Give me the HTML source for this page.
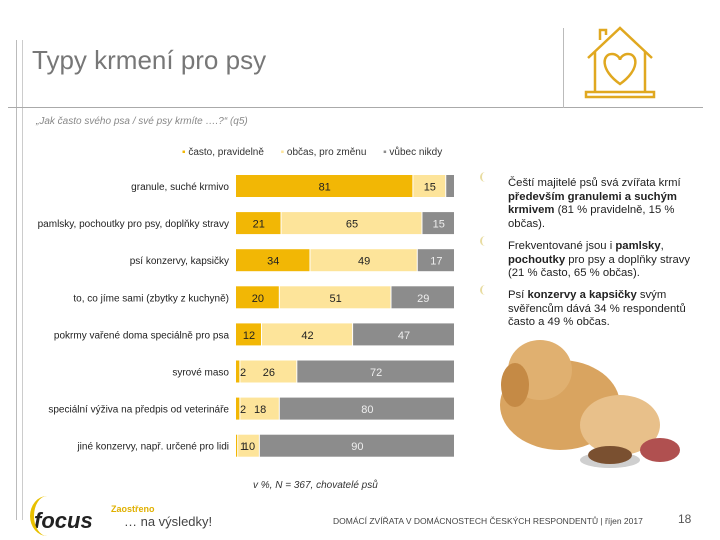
<!DOCTYPE html>
<html><head><meta charset="utf-8"><style>
body{margin:0;width:720px;height:540px;background:#fff;font-family:"Liberation Sans",sans-serif;position:relative;overflow:hidden}
.abs{position:absolute}
.b{position:absolute;left:508px;width:200px;font-size:11.3px;line-height:13.5px;color:#222}
.bul{position:absolute;left:480px;width:8px;height:10px;border-left:2px solid #e8dca0;border-radius:50%}
</style></head><body>
<div class="abs" style="left:16px;top:40px;width:1px;height:480px;background:#bbb"></div>
<div class="abs" style="left:22px;top:40px;width:1px;height:480px;background:#ccc"></div>
<div class="abs" style="left:8px;top:107px;width:695px;height:1px;background:#aaa"></div>
<div class="abs" style="left:563px;top:28px;width:1px;height:80px;background:#bbb"></div>
<div class="abs" style="left:32px;top:45px;font-size:26px;color:#777">Typy krmení pro psy</div>
<svg class="abs" style="left:580px;top:22px" width="80" height="80" viewBox="0 0 80 80">
<g fill="none" stroke="#e0a820" stroke-width="2.5"><path d="M8 36 L40 6 L72 36"/><path d="M15 30 V70 M65 30 V70"/><path d="M20 18 V8 H26 V13"/><rect x="6" y="70" width="68" height="5"/><path d="M40 62 C20 48 22 32 32 32 C37 32 40 36 40 38 C40 36 43 32 48 32 C58 32 60 48 40 62Z"/></g></svg>
<div class="abs" style="left:36px;top:116px;font-size:10px;color:#888;font-style:italic">„Jak často svého psa / své psy krmíte ….?“ (q5)</div>
<div class="abs" style="left:182px;top:147px;font-size:10px;color:#333;white-space:nowrap">
<span><span style="color:#f2b705">▪</span> často, pravidelně</span>&nbsp;&nbsp;&nbsp;&nbsp;&nbsp;
<span><span style="color:#fde49a">▪</span> občas, pro změnu</span>&nbsp;&nbsp;&nbsp;&nbsp;&nbsp;
<span><span style="color:#8c8c8c">▪</span> vůbec nikdy</span></div>
<svg id="chart" class="abs" style="left:0;top:0" width="470" height="470"></svg>
<div class="abs" style="left:253px;top:480px;font-size:10px;font-style:italic;color:#333">v %, N = 367, chovatelé psů</div>
<div class="bul" style="top:172px"></div>
<div class="b" style="top:177px">Čeští majitelé psů svá zvířata krmí <b>především granulemi a suchým krmivem</b> (81 % pravidelně, 15 % občas).</div>
<div class="bul" style="top:236px"></div>
<div class="b" style="top:240px">Frekventované jsou i <b>pamlsky</b>, <b>pochoutky</b> pro psy a doplňky stravy (21 % často, 65 % občas).</div>
<div class="bul" style="top:285px"></div>
<div class="b" style="top:289px">Psí <b>konzervy a kapsičky</b> svým svěřencům dává 34 % respondentů často a 49 % občas.</div>
<svg class="abs" style="left:470px;top:330px" width="230" height="150">
<ellipse cx="90" cy="75" rx="60" ry="45" fill="#d9a460"/><ellipse cx="70" cy="40" rx="32" ry="30" fill="#e0b070"/><ellipse cx="45" cy="55" rx="14" ry="22" fill="#c58a45"/><ellipse cx="150" cy="95" rx="40" ry="30" fill="#e8c08a"/>
<ellipse cx="140" cy="130" rx="30" ry="8" fill="#cfcfcf"/><ellipse cx="140" cy="125" rx="22" ry="9" fill="#7a5030"/><ellipse cx="190" cy="120" rx="20" ry="12" fill="#b05050"/></svg>
<div class="abs" style="left:34px;top:508px;font-size:22px;font-weight:bold;font-style:italic;color:#222">focus</div>
<div class="abs" style="left:30px;top:496px;width:30px;height:40px;border-left:4px solid #e8c000;border-radius:50%"></div>
<div class="abs" style="left:111px;top:504px;font-size:9px;color:#e0b000;font-weight:bold">Zaostřeno</div>
<div class="abs" style="left:124px;top:514px;font-size:13px;color:#444">… na výsledky!</div>
<div class="abs" style="left:333px;top:516px;font-size:8.5px;color:#444">DOMÁCÍ ZVÍŘATA V DOMÁCNOSTECH ČESKÝCH RESPONDENTŮ | říjen 2017</div>
<div class="abs" style="left:678px;top:512px;font-size:12px;color:#555">18</div>
<script>
const categories=["granule, suché krmivo","pamlsky, pochoutky pro psy, doplňky stravy","psí konzervy, kapsičky","to, co jíme sami (zbytky z kuchyně)","pokrmy vařené doma speciálně pro psa","syrové maso","speciální výživa na předpis od veterináře","jiné konzervy, např. určené pro lidi"];
const often=[81,21,34,20,12,2,2,1];
const sometimes=[15,65,49,51,42,26,18,10];
const never=[4,15,17,29,47,72,80,90];
const showNever=[false,true,true,true,true,true,true,true];
const svg=document.getElementById('chart');const NS='http://www.w3.org/2000/svg';
const x0=236,xw=219,y0=186,step=37.1,bh=22;
const xs=v=>v*xw/100;
const yc=i=>y0+i*step;
const cols=["#f2b705","#fde49a","#8c8c8c"];
function mk(t,a){const e=document.createElementNS(NS,t);for(const k in a)e.setAttribute(k,a[k]);svg.appendChild(e);return e;}
const labels=[];
categories.forEach((c,i)=>{
 const tot=often[i]+sometimes[i]+never[i];
 const vals=[often[i],sometimes[i],never[i]];let acc=0;
 const lab=mk('text',{x:229,y:yc(i)+4,'text-anchor':'end','font-size':10,fill:'#222','font-family':'Liberation Sans'});
 lab.textContent=c;
 
 
 vals.forEach((v,j)=>{
  const w=xs(v*100/tot);const x=x0+xs(acc*100/tot);
  const r=mk('rect',{x:x,y:yc(i)-bh/2,width:Math.max(w-1,0),height:bh,fill:cols[j]});
  
  
  acc+=v;
  if(j==2&&!showNever[i])return;
  let tx=x+w/2,anc='middle';
  if(j==0&&v<5){tx=x+4;anc='start';}
  if(j==1&&often[i]<5&&v<30){tx=x+w/2;}
  labels.push({tx,anc,y:yc(i)+4.5,v,fill:j==2?'#eee':'#222'});
 });
});
labels.forEach(l=>{
  const t=mk('text',{x:l.tx,y:l.y,'text-anchor':l.anc,'font-size':11,fill:l.fill,'font-family':'Liberation Sans'});
  t.textContent=l.v;
  
  
});
</script>
</body></html>
